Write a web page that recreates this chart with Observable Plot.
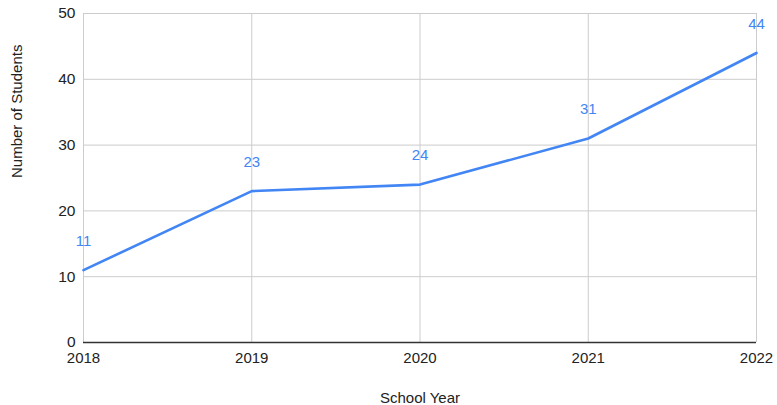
<!DOCTYPE html>
<html>
<head>
<meta charset="utf-8">
<script src="https://cdn.jsdelivr.net/npm/d3@7"></script>
<script src="https://cdn.jsdelivr.net/npm/@observablehq/plot@0.6"></script>
<style>
  html, body { margin: 0; padding: 0; background: #fff; }
  svg { display: block; }
</style>
</head>
<body>
<div id="chart"></div>
<script>
// Enrollment by school year
const years = [2018, 2019, 2020, 2021, 2022];
const students = [11, 23, 24, 31, 44];
const yTicks = [0, 10, 20, 30, 40, 50];

const data = years.map((year, i) => ({ year, students: students[i] }));

const blue = "#4285f4";
const font = "'Liberation Sans', Arial, sans-serif";

const chart = Plot.plot({
  width: 777,
  height: 405,
  marginLeft: 83,
  marginRight: 21,
  marginTop: 13,
  marginBottom: 63,
  style: { fontFamily: font, fontSize: "15px", color: "#222", background: "#fff" },
  x: { domain: [2018, 2022], axis: null },
  y: { domain: [0, 50], axis: null },
  marks: [
    // grid
    Plot.gridY(yTicks, { stroke: "#ccc", strokeOpacity: 1, strokeWidth: 1 }),
    Plot.gridX(years, { stroke: "#ccc", strokeOpacity: 1, strokeWidth: 1 }),
    Plot.ruleY([0], { stroke: "#333", strokeWidth: 1.5 }),
    // axes
    Plot.axisY(yTicks, { tickSize: 0, tickPadding: 8, fontSize: 15.5, fill: "#222", label: null }),
    Plot.axisX(years, { tickSize: 0, tickPadding: 10, fontSize: 15, fill: "#222", tickFormat: d => String(d), label: null }),
    // axis titles
    Plot.text(["School Year"], {
      frameAnchor: "bottom", dy: 60, fontSize: 15, fill: "#222", lineAnchor: "bottom"
    }),
    Plot.text(["Number of Students"], {
      frameAnchor: "left", dx: -66, rotate: -90, fontSize: 15, fill: "#222"
    }),
    // series
    Plot.line(data, { x: "year", y: "students", stroke: blue, strokeWidth: 2.6 }),
    Plot.text(data, {
      x: "year", y: "students", text: d => String(d.students),
      dy: -29, fill: blue, fontSize: 15
    })
  ]
});

document.getElementById("chart").append(chart);
</script>
</body>
</html>
